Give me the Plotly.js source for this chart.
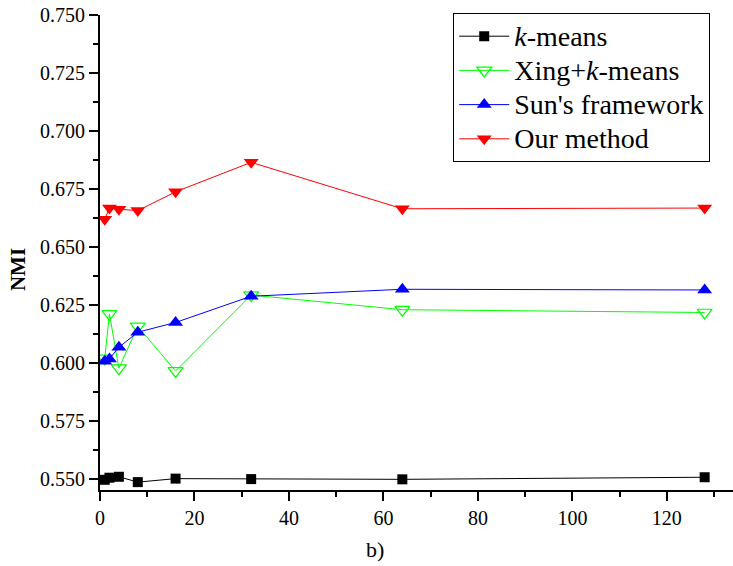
<!DOCTYPE html>
<html>
<head>
<meta charset="utf-8">
<script src="https://cdn.plot.ly/plotly-3.0.1.min.js"></script>
<style>html,body{margin:0;padding:0;background:#fff;}#chart{width:733px;height:566px;}</style>
</head>
<body>
<div id="chart"></div>
<script>
const xVals = [1, 2, 4, 8, 16, 32, 64, 128];
const seriesNames = ['<i>k</i>-means', 'Xing+<i>k</i>-means', "Sun's framework", 'Our method'];
const kmeans = [0.5497, 0.5506, 0.5510, 0.5487, 0.5502, 0.5500, 0.5499, 0.5508];
const xing   = [0.6020, 0.6212, 0.5978, 0.6158, 0.5966, 0.6293, 0.6230, 0.6218];
const sun    = [0.6008, 0.6018, 0.6068, 0.6133, 0.6175, 0.6288, 0.6318, 0.6315];
const ours   = [0.6620, 0.6668, 0.6663, 0.6657, 0.6738, 0.6865, 0.6665, 0.6668];

const font = "'Liberation Serif', 'DejaVu Serif', serif";
const big = s => '<span style="font-size:28px">' + s + '</span>';

const traces = [
  {x: xVals, y: kmeans, name: big(seriesNames[0]), mode: 'lines+markers',
   line: {color: '#000000', width: 1}, marker: {symbol: 'square', size: 10, color: '#000000'}},
  {x: xVals, y: xing, name: big(seriesNames[1]), mode: 'lines+markers',
   line: {color: '#00ff00', width: 1}, marker: {symbol: 'triangle-down-open', size: 13, color: '#00ff00', line: {width: 1.2, color: '#00ff00'}}},
  {x: xVals, y: sun, name: big(seriesNames[2]), mode: 'lines+markers',
   line: {color: '#0000ff', width: 1}, marker: {symbol: 'triangle-up', size: 13, color: '#0000ff'}},
  {x: xVals, y: ours, name: big(seriesNames[3]), mode: 'lines+markers',
   line: {color: '#ff0000', width: 1}, marker: {symbol: 'triangle-down', size: 13, color: '#ff0000'}}
];

const layout = {
  width: 733, height: 566,
  margin: {l: 100, r: 0, t: 15, b: 76},
  paper_bgcolor: '#ffffff', plot_bgcolor: '#ffffff',
  font: {family: font, color: '#000000', size: 20},
  showlegend: true,
  legend: {x: 0.558, xanchor: 'left', y: 1.004, yanchor: 'top',
           bgcolor: '#ffffff', bordercolor: '#000000', borderwidth: 1,
           font: {family: font, size: 24, color: '#000000'}, itemwidth: 50},
  xaxis: {range: [0, 134], dtick: 20, tick0: 0, showgrid: false, zeroline: false,
          showline: true, linecolor: '#000000', linewidth: 2,
          ticks: 'outside', ticklen: 9, tickwidth: 2, tickcolor: '#000000',
          minor: {dtick: 10, ticks: 'outside', ticklen: 5, tickwidth: 2, tickcolor: '#000000', showgrid: false},
          tickfont: {family: font, size: 20, color: '#000000'}},
  yaxis: {range: [0.5453, 0.750], dtick: 0.025, tick0: 0.55, tickformat: '.3f', showgrid: false, zeroline: false,
          showline: true, linecolor: '#000000', linewidth: 2,
          ticks: 'outside', ticklen: 9, tickwidth: 2, tickcolor: '#000000',
          minor: {dtick: 0.0125, ticks: 'outside', ticklen: 5, tickwidth: 2, tickcolor: '#000000', showgrid: false},
          tickfont: {family: font, size: 20, color: '#000000'}},
  annotations: [
    {text: '<b>NMI</b>', xref: 'paper', yref: 'paper', x: -0.1295, y: 0.463, textangle: -90,
     showarrow: false, xanchor: 'center', yanchor: 'middle', font: {family: font, size: 21, color: '#000000'}},
    {text: 'b)', xref: 'paper', yref: 'paper', x: 0.434, y: -0.126, showarrow: false,
     xanchor: 'center', yanchor: 'middle', font: {family: font, size: 22, color: '#000000'}}
  ]
};

Plotly.newPlot('chart', traces, layout, {displayModeBar: false, staticPlot: true});
</script>
</body>
</html>
